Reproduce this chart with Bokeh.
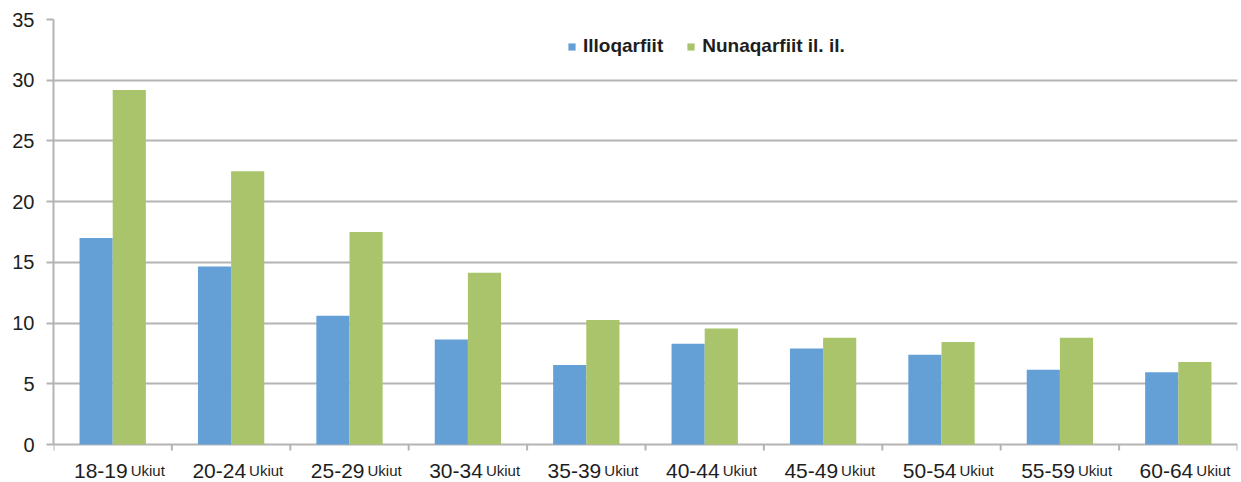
import numpy as np
from bokeh.plotting import figure
from bokeh.models import ColumnDataSource, Range1d, FixedTicker, Legend, LegendItem
from bokeh.core.properties import value
from bokeh.embed import file_html
from bokeh.resources import INLINE

# ---- data -------------------------------------------------------------
categories = ["18-19", "20-24", "25-29", "30-34", "35-39",
              "40-44", "45-49", "50-54", "55-59", "60-64"]
unit_word = "Ukiut"
series_names = ["Illoqarfiit", "Nunaqarfiit il. il."]
illoqarfiit = [17.0, 14.65, 10.6, 8.65, 6.55, 8.3, 7.9, 7.4, 6.15, 5.95]
nunaqarfiit = [29.2, 22.5, 17.5, 14.15, 10.25, 9.55, 8.8, 8.45, 8.8, 6.8]
y_ticks = [0, 5, 10, 15, 20, 25, 30, 35]

# ---- layout / styling -------------------------------------------------
W, H = 1241, 482
LEFT, RIGHT, TOP = 53, 4, 19
ZERO_PX = 444                       # pixel row of value 0
px_per_unit = (ZERO_PX - TOP) / y_ticks[-1]
y_bottom = -(H - ZERO_PX) / px_per_unit
TICK_LEN = 6 / px_per_unit

BLUE = "#649fd6"
GREEN = "#a9c46a"
GRID = "#b4b4b4"
TEXT = "#1e1e1e"
FONT = "Liberation Sans"
BAR_W = 0.28

n = len(categories)
centers = np.arange(n) + 0.5

src = ColumnDataSource(dict(
    xc=centers,
    xb=centers - BAR_W / 2,
    xg=centers + BAR_W / 2,
    illo=illoqarfiit,
    nuna=nunaqarfiit,
    cat=categories,
    unit=[unit_word] * n,
    y0=[0] * n,
))
bounds = np.arange(n + 1)
tick_src = ColumnDataSource(dict(x=bounds, y0=[0] * (n + 1), y1=[-TICK_LEN] * (n + 1)))

p = figure(width=W, height=H, output_backend="svg", toolbar_location=None,
           x_range=Range1d(0, n), y_range=Range1d(y_bottom, y_ticks[-1]),
           min_border_left=LEFT, min_border_right=RIGHT, min_border_top=TOP,
           min_border_bottom=0)
p.outline_line_color = None
p.background_fill_color = "white"
p.border_fill_color = "white"
p.xaxis.visible = False

rb = p.vbar(x="xb", top="illo", width=BAR_W, source=src, fill_color=BLUE,
            line_color=None)
rg = p.vbar(x="xg", top="nuna", width=BAR_W, source=src, fill_color=GREEN,
            line_color=None)

# grid (the 0 line doubles as the category axis line)
p.xgrid.visible = False
p.ygrid.ticker = FixedTicker(ticks=y_ticks)
p.ygrid.grid_line_color = GRID
p.ygrid.grid_line_width = 2

# category boundary tick marks
p.segment(x0="x", x1="x", y0="y0", y1="y1", source=tick_src,
          line_color=GRID, line_width=2)

# y axis
p.yaxis.ticker = FixedTicker(ticks=y_ticks)
p.yaxis.bounds = (0, y_ticks[-1])
p.yaxis.axis_line_color = GRID
p.yaxis.axis_line_width = 2
p.yaxis.major_tick_line_color = GRID
p.yaxis.major_tick_line_width = 2
p.yaxis.major_tick_out = 7
p.yaxis.major_tick_in = 0
p.yaxis.minor_tick_line_color = None
p.yaxis.major_label_standoff = 12
p.yaxis.major_label_text_font = FONT
p.yaxis.major_label_text_font_size = "20px"
p.yaxis.major_label_text_color = TEXT

# category labels: age range + smaller unit word
p.text(x="xc", y="y0", text="cat", source=src, x_offset=15, y_offset=26,
       text_align="right", text_baseline="alphabetic",
       text_font=value(FONT), text_font_size=value("21px"), text_color=TEXT)
p.text(x="xc", y="y0", text="unit", source=src, x_offset=18, y_offset=26,
       text_align="left", text_baseline="alphabetic",
       text_font=value(FONT), text_font_size=value("15px"), text_color=TEXT)

frame_h = H - TOP
legend = Legend(items=[LegendItem(label=series_names[0], renderers=[rb]),
                       LegendItem(label=series_names[1], renderers=[rg])],
                orientation="horizontal", location=(514, frame_h - 27 - 11),
                glyph_width=9, glyph_height=9, label_standoff=7, spacing=23,
                padding=0, margin=0, border_line_color=None,
                background_fill_alpha=0,
                label_text_font=FONT, label_text_font_size="19px",
                label_text_font_style="bold", label_text_color=TEXT)
p.add_layout(legend)

open("out.html", "w").write(file_html(p, INLINE))
